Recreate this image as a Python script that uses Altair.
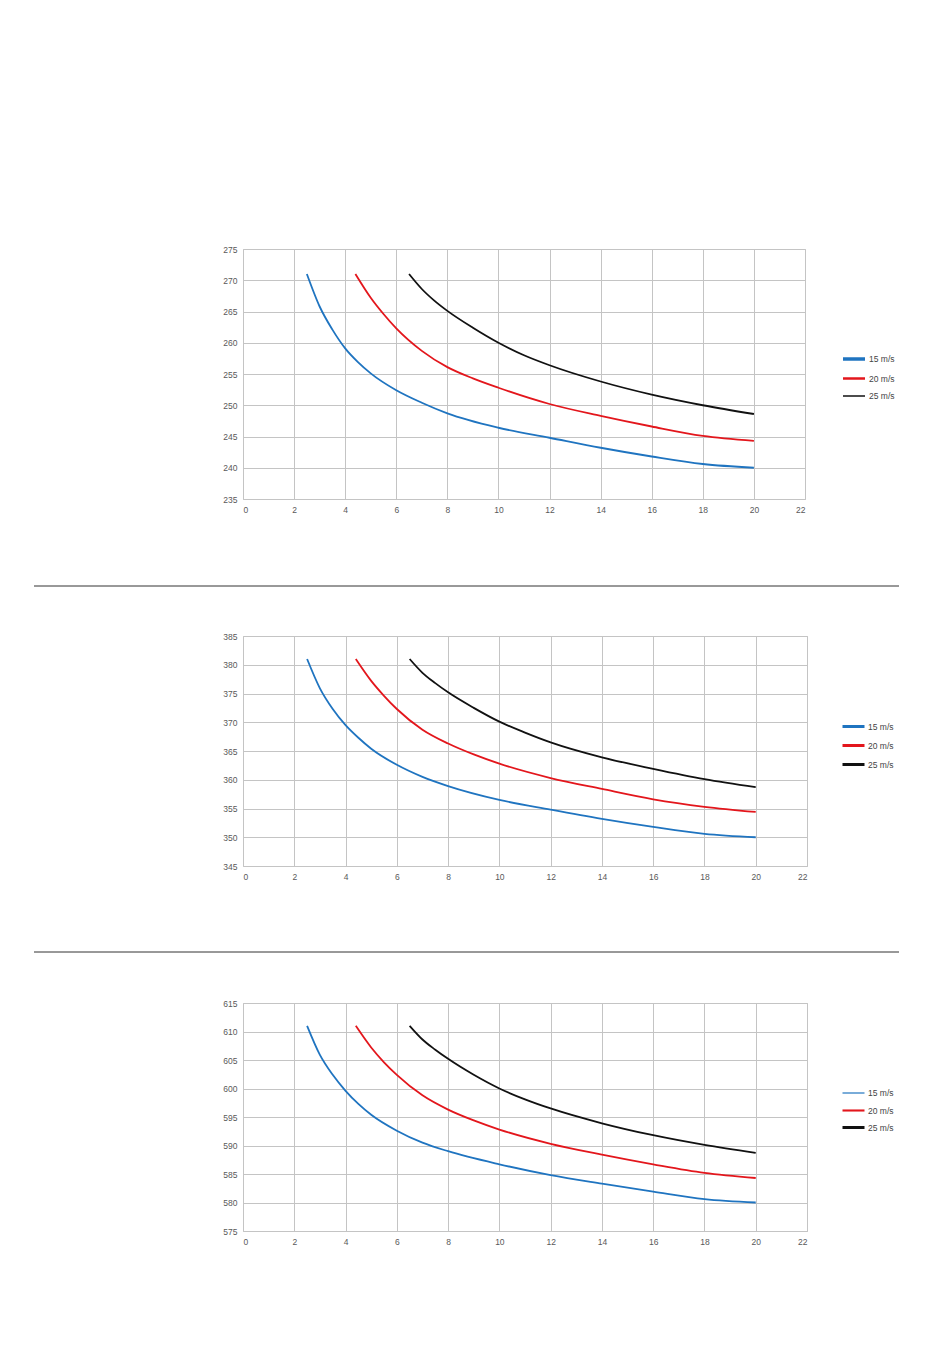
import altair as alt
import pandas as pd

SERIES = ["15 m/s", "20 m/s", "25 m/s"]
COLORS = ["#1f74c0", "#e3161c", "#111111"]

X15 = [2.5, 3, 3.5, 4, 4.5, 5, 6, 7, 8, 10, 12, 14, 16, 18, 20]
X20 = [4.4, 5, 5.5, 6, 7, 8, 9, 10, 12, 14, 16, 18, 20]
X25 = [6.5, 7, 7.5, 8, 9, 10, 11, 12, 14, 16, 18, 20]

# chart 1
Y15_1 = [271.0, 265.8, 262.1, 259.1, 256.9, 255.1, 252.4, 250.4, 248.7, 246.4, 244.8, 243.2, 241.8, 240.6, 240.0]
Y20_1 = [271.0, 267.2, 264.6, 262.3, 258.7, 256.1, 254.3, 252.8, 250.2, 248.3, 246.6, 245.1, 244.3]
Y25_1 = [271.0, 268.6, 266.7, 265.1, 262.4, 260.0, 258.0, 256.4, 253.8, 251.7, 250.0, 248.6]
# chart 2
Y15_2 = [381.0, 375.9, 372.3, 369.5, 367.3, 365.4, 362.6, 360.5, 358.9, 356.5, 354.8, 353.2, 351.8, 350.6, 350.0]
Y20_2 = [381.0, 377.2, 374.6, 372.3, 368.7, 366.3, 364.4, 362.8, 360.3, 358.4, 356.6, 355.3, 354.4]
Y25_2 = [381.0, 378.6, 376.8, 375.2, 372.5, 370.1, 368.2, 366.5, 363.9, 361.9, 360.1, 358.7]
# chart 3
Y15_3 = [611.0, 605.9, 602.4, 599.6, 597.3, 595.4, 592.6, 590.5, 589.0, 586.7, 584.8, 583.3, 581.9, 580.6, 580.0]
Y20_3 = [611.0, 607.2, 604.6, 602.4, 598.8, 596.3, 594.4, 592.8, 590.3, 588.4, 586.7, 585.2, 584.3]
Y25_3 = [611.0, 608.6, 606.8, 605.2, 602.4, 600.0, 598.1, 596.5, 593.9, 591.8, 590.1, 588.7]

# legend line widths per chart
LW_1 = [3.5, 1.5, 1.2]
LW_2 = [3.0, 3.0, 3.0]
LW_3 = [1.2, 3.0, 3.0]

X_TICKS = list(range(0, 23, 2))

FONT = "Liberation Sans"
GRID = "#c4c4c4"


def make_df(y15, y20, y25):
    rows = []
    for s, xs, ys in zip(SERIES, [X15, X20, X25], [y15, y20, y25]):
        for x, y in zip(xs, ys):
            rows.append({"x": x, "y": y, "series": s})
    return pd.DataFrame(rows)


def panel(df, ymin, ymax, w, h, legend_y, widths, sep_y=None):
    xenc = alt.X("x:Q", scale=alt.Scale(domain=[0, 22], nice=False, zero=False),
                 axis=alt.Axis(values=X_TICKS, title=None))
    yenc = alt.Y("y:Q", scale=alt.Scale(domain=[ymin, ymax], nice=False, zero=False),
                 axis=alt.Axis(values=list(range(ymin, ymax + 1, 5)), title=None))
    cscale = alt.Scale(domain=SERIES, range=COLORS)
    leg = alt.Legend(orient="none", legendX=598, legendY=legend_y,
                     title=None, symbolType="stroke", symbolSize=484,
                     labelFontSize=8.5, labelFont=FONT, labelColor="#444",
                     labelOffset=2, rowPadding=0)
    base = alt.Chart(df).mark_line(interpolate="monotone", strokeWidth=1.8).encode(
        x=xenc, y=yenc,
        color=alt.Color("series:N", scale=cscale, legend=leg),
    ).properties(width=w, height=h)
    legend_layer = alt.Chart(df).transform_filter("datum.x > 100").mark_line().encode(
        x=xenc, y=yenc,
        color=alt.Color("series:N", scale=cscale, legend=leg),
        strokeWidth=alt.StrokeWidth("series:N", scale=alt.Scale(domain=SERIES, range=widths), legend=leg),
    )
    layers = [base, legend_layer]
    if sep_y is not None:
        sep = alt.Chart(pd.DataFrame({"k": [0]})).mark_rule(color="#333333", strokeWidth=1).encode(
            x=alt.value(-209), x2=alt.value(656), y=alt.value(sep_y))
        layers.append(sep)
    return alt.layer(*layers)


p1 = panel(make_df(Y15_1, Y20_1, Y25_1), 235, 275, 562, 250, 97, LW_1, sep_y=337)
p2 = panel(make_df(Y15_2, Y20_2, Y25_2), 345, 385, 564, 230, 78, LW_2, sep_y=316)
p3 = panel(make_df(Y15_3, Y20_3, Y25_3), 575, 615, 564, 228, 78, LW_3)

chart = alt.vconcat(p1, p2, p3, spacing=137, bounds="flush").resolve_scale(
    color="independent", strokeWidth="independent", x="independent", y="independent"
).resolve_legend(color="independent", strokeWidth="independent").properties(
    padding={"left": 25, "top": 236, "right": 0, "bottom": 0}
).configure_axis(
    labelFontSize=8.5, labelFont=FONT, labelColor="#595959", ticks=False, domain=False,
    gridColor=GRID, gridWidth=1, labelPadding=6
).configure_view(stroke=GRID, strokeWidth=1)

chart.save("out.html", embed_options={"renderer": "svg", "actions": False})
